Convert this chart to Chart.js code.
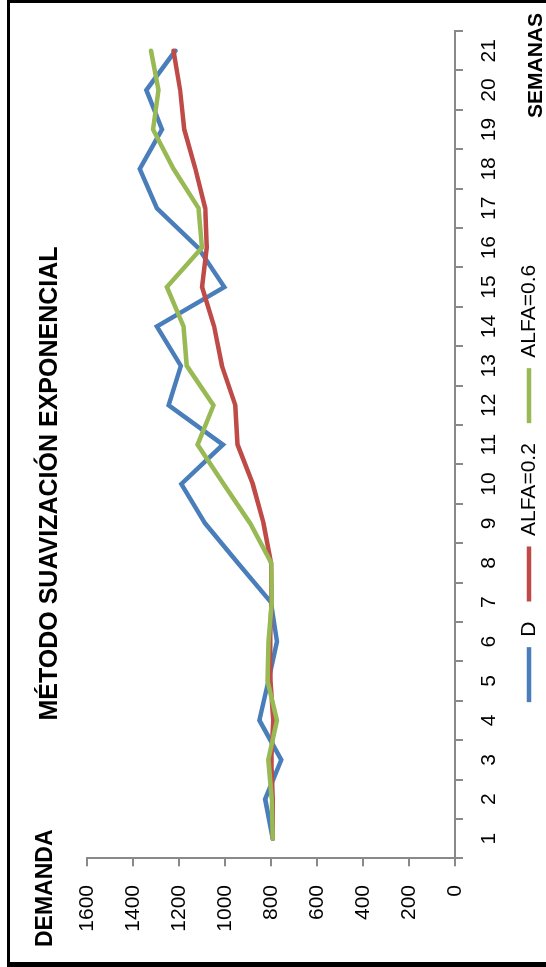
<!DOCTYPE html>
<html><head><meta charset="utf-8">
<script src="https://cdn.jsdelivr.net/npm/chart.js@4"></script>
<style>
html,body{margin:0;padding:0;background:#fff;overflow:hidden;width:546px;height:967px}
#wrap{position:absolute;left:0;top:0;width:967px;height:546px;transform-origin:0 0;transform:translate(0,967px) rotate(-90deg);background:#fff}
</style></head><body>
<div id="wrap"><canvas id="c" width="967" height="546" style="width:967px;height:546px"></canvas></div>
<script>
const weeks = ['1','2','3','4','5','6','7','8','9','10','11','12','13','14','15','16','17','18','19','20','21'];
const demand = [793, 826, 756, 851, 812, 775, 801, 945, 1087, 1191, 1010, 1246, 1193, 1297, 1004, 1118, 1297, 1372, 1275, 1343, 1217];
const alfa02 = [793, 793, 800, 791, 803, 805, 799, 801, 833, 880, 946, 956, 1014, 1048, 1101, 1080, 1087, 1130, 1178, 1196, 1225];
const alfa06 = [793, 797, 812, 775, 816, 812, 797, 800, 891, 1007, 1120, 1051, 1167, 1181, 1254, 1101, 1116, 1225, 1314, 1290, 1323];
const seriesNames = ['D', 'ALFA=0.2', 'ALFA=0.6'];
const valueMin = 0, valueMax = 1600, valueStep = 200;
const titleText = 'MÉTODO SUAVIZACIÓN EXPONENCIAL';
const yTitle = 'DEMANDA';
const xTitle = 'SEMANAS';

const FONT = '"Liberation Sans", Arial, sans-serif';
const AXIS = '#898989';

const extras = {
  id: 'extras',
  afterDraw(chart) {
    const ctx = chart.ctx;
    ctx.save();
    ctx.fillStyle = '#000';
    ctx.textAlign = 'left';
    ctx.textBaseline = 'alphabetic';
    ctx.font = 'bold 23px ' + FONT;
    ctx.fillText(yTitle, 20, 51.7);
    ctx.font = 'bold 21px ' + FONT;
    ctx.fillText(xTitle, 849, 542);
    ctx.fillRect(0, 7, 967, 3);
    ctx.fillRect(0, 7, 5, 539);
    ctx.fillRect(964, 7, 3, 539);
    ctx.restore();
  }
};

const mk = (label, data, color, order) => ({
  label, data, order, borderColor: color, backgroundColor: color,
  borderWidth: 4.5, pointRadius: 0, pointHoverRadius: 0, tension: 0,
  borderCapStyle: 'round', borderJoinStyle: 'miter', pointStyle: 'line', fill: false
});

new Chart(document.getElementById('c'), {
  type: 'line',
  data: {
    labels: weeks,
    datasets: [
      mk(seriesNames[0], demand, '#4A7EBB', 2),
      mk(seriesNames[1], alfa02, '#BE4B48', 1),
      mk(seriesNames[2], alfa06, '#98B954', 0)
    ]
  },
  plugins: [extras],
  options: {
    responsive: false,
    animation: false,
    devicePixelRatio: 1,
    layout: { padding: { left: 0, right: 0, top: 0, bottom: 0 } },
    plugins: {
      tooltip: { enabled: false },
      title: {
        display: true, text: titleText, color: '#000',
        font: { family: FONT, size: 25, weight: 'bold', lineHeight: 1.2 },
        padding: { top: 35, bottom: 22.3 }
      },
      legend: {
        position: 'bottom',
        maxHeight: 47.5,
        labels: {
          color: '#000', font: { family: FONT, size: 21 },
          usePointStyle: true, pointStyleWidth: 55, boxHeight: 4, padding: 20,
          sort: (a, b) => a.datasetIndex - b.datasetIndex
        }
      }
    },
    scales: {
      x: {
        type: 'category', offset: true,
        grid: { display: true, drawOnChartArea: false, offset: true, tickLength: 8, color: AXIS, lineWidth: 2 },
        border: { display: true, color: AXIS, width: 2 },
        ticks: { color: '#000', font: { family: FONT, size: 21 }, padding: 14, maxRotation: 0, autoSkip: false },
        afterFit(s) { s.height = 43.5; }
      },
      y: {
        min: valueMin, max: valueMax,
        grid: { display: true, drawOnChartArea: false, tickLength: 8, color: AXIS, lineWidth: 2 },
        border: { display: true, color: AXIS, width: 2 },
        ticks: { stepSize: valueStep, color: '#000', font: { family: FONT, size: 21 }, padding: 18.7,
                 callback: v => String(v) },
        afterFit(s) { s.width = 108.7; }
      },
      yR: {
        position: 'right', display: true, min: 0, max: 1,
        grid: { display: false }, border: { display: false }, ticks: { display: false },
        afterFit(s) { s.width = 31; }
      }
    }
  }
});
</script>
</body></html>
